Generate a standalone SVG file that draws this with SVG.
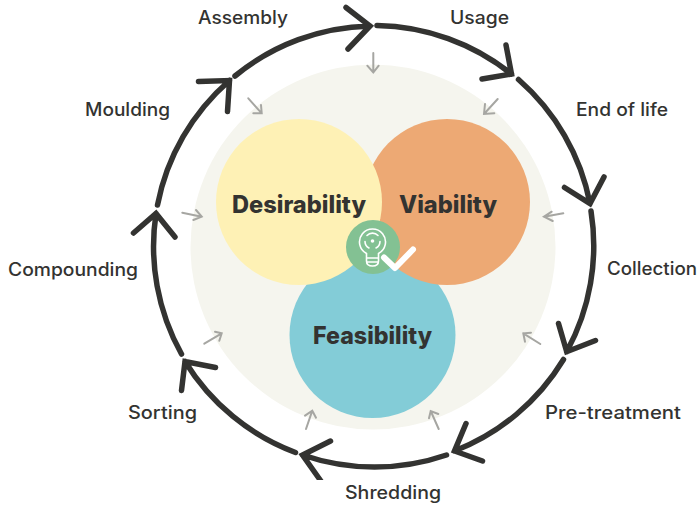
<svg xmlns="http://www.w3.org/2000/svg" width="699" height="505" viewBox="0 0 699 505">
<style>
.cycle{fill:none;stroke:#333331;stroke-width:5.500;stroke-linecap:round;stroke-linejoin:miter}
.feed{fill:none;stroke:#a6a6a2;stroke-width:2;stroke-linecap:round;stroke-linejoin:miter}
.lbl{font-family:"Inter","Liberation Sans",sans-serif;font-size:18px;font-weight:500;fill:#333331}
.big{font-family:"Inter","Liberation Sans",sans-serif;font-size:24px;font-weight:800;fill:#333331}
.ic{fill:none;stroke:#fff;stroke-width:1.600;stroke-linecap:round}
</style>
<rect width="699" height="505" fill="#fff"/>
<circle id="field" cx="373" cy="247" r="182.500" fill="#f5f5ee"/>
<g id="feasibility"><circle cx="372.500" cy="335" r="83" fill="#83ccd7"/><text class="big" x="313" y="344" textLength="119" lengthAdjust="spacingAndGlyphs">Feasibility</text></g>
<g id="viability"><circle cx="447" cy="202" r="83" fill="#eda974"/><text class="big" x="399" y="213" textLength="98" lengthAdjust="spacingAndGlyphs">Viability</text></g>
<g id="desirability"><circle cx="299" cy="202" r="83" fill="#fef1b5"/><text class="big" x="232" y="213" textLength="134" lengthAdjust="spacingAndGlyphs">Desirability</text></g>
<g id="centre">
<circle cx="373" cy="247" r="27" fill="#83c193"/>
<path class="ic" d="M366.500 253.500A13 13 0 1 1 378.500 253.500V261Q378.500 266 372.500 266Q366.500 266 366.500 261ZM367 258H378M367 262H378"/>
<path class="ic" d="M367 235.500A7.500 7.500 0 0 1 378 235.500M380 241.500A7.500 7.500 0 0 1 376 248M369 248A7.500 7.500 0 0 1 365 241.500"/>
<circle cx="372.500" cy="241" r="1.800" fill="#fff"/>
<path d="M384 257.500L395 268L413 249.500" fill="none" stroke="#fff" stroke-width="6" stroke-linecap="round" stroke-linejoin="round"/>
</g>
<g id="connectors">
<g class="cycle">
<path d="M235 76A221 221 0 0 1 370 26M346 7.500L370 26L348 49"/>
<path d="M377 25.500A221 221 0 0 1 511.500 74M506 45L511.500 74L482 79"/>
<path d="M518.500 79.500A221 221 0 0 1 590 203.500M604 177L590 203.500L564.500 187.500"/>
<path d="M591 211A221 221 0 0 1 566.700 351.700M558.500 323.500L566.700 351.700L595.500 340.500"/>
<path d="M563.500 359.500A221 221 0 0 1 454.500 451M466 423.500L454.500 451L482.500 461"/>
<path d="M446.500 455A221 221 0 0 1 302.500 455M330.500 441L302.500 455L323 484"/>
<path d="M295.500 452.500A221 221 0 0 1 185 361.500M215.500 367.500L185 361.500L181.500 390.500"/>
<path d="M181.500 354A221 221 0 0 1 156 213.500M133.500 233L156 213.500L175 237"/>
<path d="M157.500 205A221 221 0 0 1 229.500 80.500M198.500 81.500L229.500 80.500L227.500 111.500"/>
</g>
<rect x="310" y="480" width="25" height="8" fill="#fff"/>
<g class="feed">
<path d="M373.300 53V72.500M367.300 65.700L373.300 72.500L378.700 65.700"/>
<path d="M248.300 98.300L261.700 113.300M253.300 113.300H261.700L261 105"/>
<path d="M497.700 99L484 114M494.300 113.300L484 114L485 104"/>
<path d="M563.300 213.300L544 216.700M551.700 211.700L544 216.700L552.700 221"/>
<path d="M540.300 344L523.300 333.300M531 332.700L523.300 333.300L525 341.700"/>
<path d="M438.700 429L430.700 411M438.300 414L430.700 411L429 418.300"/>
<path d="M306 429L312.300 410.700M305 415.700L312.300 410.700L316 417.700"/>
<path d="M204.300 343.700L221.700 333.300M215 331.700L221.700 333.300L219.300 340.700"/>
<path d="M182.300 212.700L201.700 216.700M196 210L201.700 216.700L193.300 220"/>
</g>
</g>
<g id="labels">
<text class="lbl" x="198" y="24" textLength="90" lengthAdjust="spacingAndGlyphs">Assembly</text>
<text class="lbl" x="450" y="24" textLength="59" lengthAdjust="spacingAndGlyphs">Usage</text>
<text class="lbl" x="576" y="116" textLength="92" lengthAdjust="spacingAndGlyphs">End of life</text>
<text class="lbl" x="85" y="116" textLength="85" lengthAdjust="spacingAndGlyphs">Moulding</text>
<text class="lbl" x="607" y="275" textLength="90" lengthAdjust="spacingAndGlyphs">Collection</text>
<text class="lbl" x="8" y="276" textLength="130" lengthAdjust="spacingAndGlyphs">Compounding</text>
<text class="lbl" x="545" y="419" textLength="136" lengthAdjust="spacingAndGlyphs">Pre-treatment</text>
<text class="lbl" x="128" y="419" textLength="69" lengthAdjust="spacingAndGlyphs">Sorting</text>
<text class="lbl" x="345" y="499" textLength="96" lengthAdjust="spacingAndGlyphs">Shredding</text>
</g>
</svg>
